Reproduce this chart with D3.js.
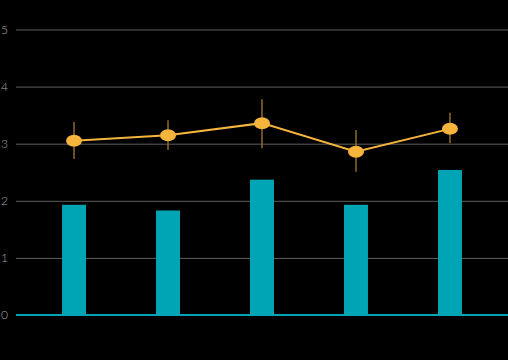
<!DOCTYPE html>
<html><head><meta charset="utf-8">
<script src="https://cdn.jsdelivr.net/npm/d3@7"></script>
<style>html,body{margin:0;padding:0;background:#000;}svg{display:block;}</style>
</head><body>
<svg id="c" width="508" height="360"></svg>
<script>
const categories = ["A", "B", "C", "D", "E"];
const barValues = [1.93, 1.83, 2.37, 1.93, 2.54];
const lineValues = [3.05, 3.15, 3.36, 2.86, 3.26];
const errLow = [2.73, 2.89, 2.92, 2.51, 3.01];
const errHigh = [3.38, 3.41, 3.78, 3.24, 3.54];
const yTicks = [0, 1, 2, 3, 4, 5];

(function () {
const svg = d3.select("#c");
const mLeft = 16, mRight = 508, mTop = 29.5, mBottom = 315;

const x = d3.scaleBand().domain(categories).range([mLeft, mRight]).paddingInner(0.745).paddingOuter(0.49);
const y = d3.scaleLinear().domain([0, 5]).range([mBottom, mTop]);

const yAxis = d3.axisLeft(y).tickValues(yTicks).tickSize(-(mRight - mLeft)).tickFormat(d3.format("d"));
const ga = svg.append("g").attr("transform", `translate(${mLeft},0)`).call(yAxis);
ga.select(".domain").remove();
ga.selectAll(".tick line").attr("stroke", "#5e5e5e").attr("stroke-width", 1);
ga.selectAll(".tick text").attr("fill", "#a8a8a8").attr("x", -8).attr("font-size", 12)
  .attr("font-weight", 300)
  .attr("font-family", "Lato, 'Open Sans', sans-serif");

svg.append("g").selectAll("rect").data(barValues).join("rect")
  .attr("x", (d, i) => x(categories[i]))
  .attr("width", x.bandwidth())
  .attr("y", d => y(d))
  .attr("height", d => y(0) - y(d))
  .attr("fill", "#00a5b5");

svg.append("line").attr("x1", mLeft).attr("x2", mRight).attr("y1", y(0)).attr("y2", y(0))
  .attr("stroke", "#00a5b5").attr("stroke-width", 2);

const cx = i => x(categories[i]) + x.bandwidth() / 2;

svg.append("g").selectAll("line").data(lineValues).join("line")
  .attr("x1", (d, i) => cx(i)).attr("x2", (d, i) => cx(i))
  .attr("y1", (d, i) => y(errLow[i])).attr("y2", (d, i) => y(errHigh[i]))
  .attr("stroke", "#8c6d2c").attr("stroke-width", 1.5);

const line = d3.line().x((d, i) => cx(i)).y(d => y(d));
svg.append("path").datum(lineValues).attr("d", line)
  .attr("fill", "none").attr("stroke", "#f5b43c").attr("stroke-width", 2);

svg.append("g").selectAll("ellipse").data(lineValues).join("ellipse")
  .attr("cx", (d, i) => cx(i)).attr("cy", d => y(d))
  .attr("rx", 8).attr("ry", 6).attr("fill", "#f5b43c");
})();
</script>
</body></html>
